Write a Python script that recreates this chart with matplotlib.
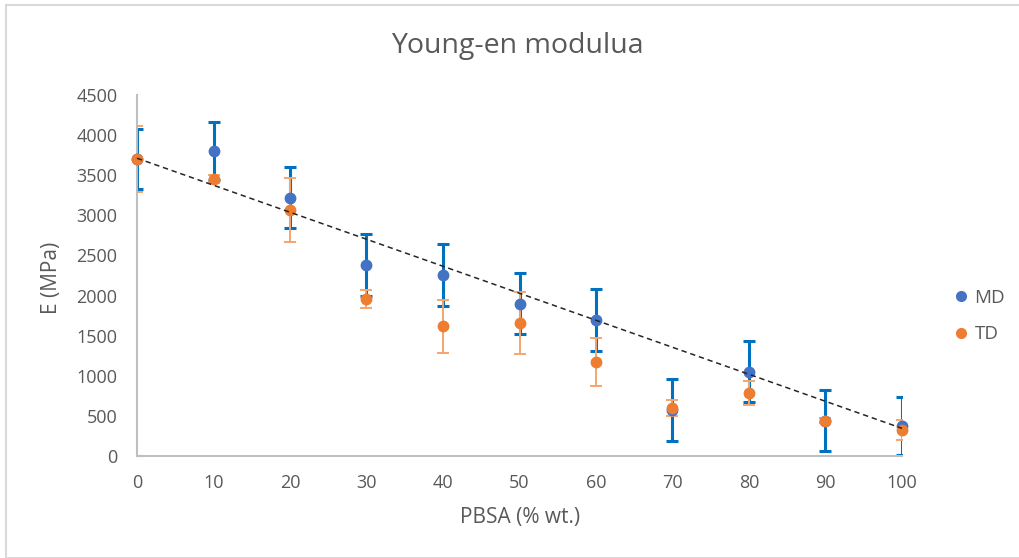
import matplotlib.pyplot as plt
from matplotlib.lines import Line2D
from matplotlib.patches import Rectangle

# data
pbsa = [0, 10, 20, 30, 40, 50, 60, 70, 80, 90, 100]
md_mean = [3700, 3805, 3220, 2380, 2255, 1895, 1695, 575, 1050, 440, 375]
md_err = [370, 360, 380, 385, 385, 380, 385, 385, 380, 380, 360]
td_mean = [3705, 3455, 3065, 1955, 1620, 1660, 1170, 600, 785, 440, 325]
td_err = [410, 50, 400, 110, 330, 385, 300, 100, 155, 30, 120]
trend_x = [0, 100]
trend_y = [3712, 345]

md_color = '#4472C4'
md_bar = '#0070C0'
td_color = '#ED7D31'
td_bar = '#F4A56E'
text_gray = '#595959'

plt.rcParams['font.family'] = ['Open Sans', 'DejaVu Sans']

fig = plt.figure(figsize=(10.19, 5.58), dpi=100)
ax = fig.add_axes([137 / 1019, 1 - 456 / 558, (902 - 137) / 1019, (456 - 95) / 558])

# chart area border
fig.patches.append(Rectangle((6 / 1019, 0), 1.0, 1 - 5 / 558, transform=fig.transFigure,
                             fill=False, edgecolor='#D9D9D9', linewidth=1.5))

ax.errorbar(pbsa, md_mean, yerr=md_err, fmt='none', ecolor=md_bar, elinewidth=2.2,
            capsize=4, capthick=2.2, zorder=2)
ax.errorbar(pbsa, td_mean, yerr=td_err, fmt='none', ecolor=td_bar, elinewidth=1.4,
            capsize=4.5, capthick=1.4, zorder=3)
ax.plot(pbsa, md_mean, 'o', color=md_color, markersize=7.5, zorder=4, clip_on=False)
ax.plot(pbsa, td_mean, 'o', color=td_color, markersize=7.5, zorder=5, clip_on=False)
ax.plot(trend_x, trend_y, linestyle=(0, (3.5, 2.5)), color='#262626', linewidth=1.1, zorder=6,
        clip_on=False)

ax.set_xlim(0, 100)
ax.set_ylim(0, 4500)
ax.set_xticks(range(0, 101, 10))
ax.set_yticks(range(0, 4501, 500))
ax.tick_params(length=0, labelsize=13, colors=text_gray)
ax.tick_params(axis='x', pad=13)
ax.tick_params(axis='y', pad=14)
for side in ['top', 'right']:
    ax.spines[side].set_visible(False)
for side in ['left', 'bottom']:
    ax.spines[side].set_color('#BFBFBF')
    ax.spines[side].set_linewidth(1.5)

fig.text(517 / 1019, 1 - 46 / 558, 'Young-en modulua', ha='center', va='center',
         fontsize=20.5, color=text_gray)
fig.text(51 / 1019, 1 - 278 / 558, 'E (MPa)', ha='center', va='center', rotation=90,
         fontsize=15, color=text_gray)
fig.text(520 / 1019, 1 - 518 / 558, 'PBSA (% wt.)', ha='center', va='center',
         fontsize=15, color=text_gray)

handles = [Line2D([], [], marker='o', linestyle='none', color=md_color, markersize=7),
           Line2D([], [], marker='o', linestyle='none', color=td_color, markersize=7)]
leg = fig.legend(handles, ['MD', 'TD'], loc='center left',
                 bbox_to_anchor=(937 / 1019, 1 - 316 / 558), frameon=False,
                 fontsize=13.5, handlelength=0.8, handletextpad=0.3, labelspacing=1.0,
                 labelcolor=text_gray)

fig.savefig('out.png', dpi=100)
